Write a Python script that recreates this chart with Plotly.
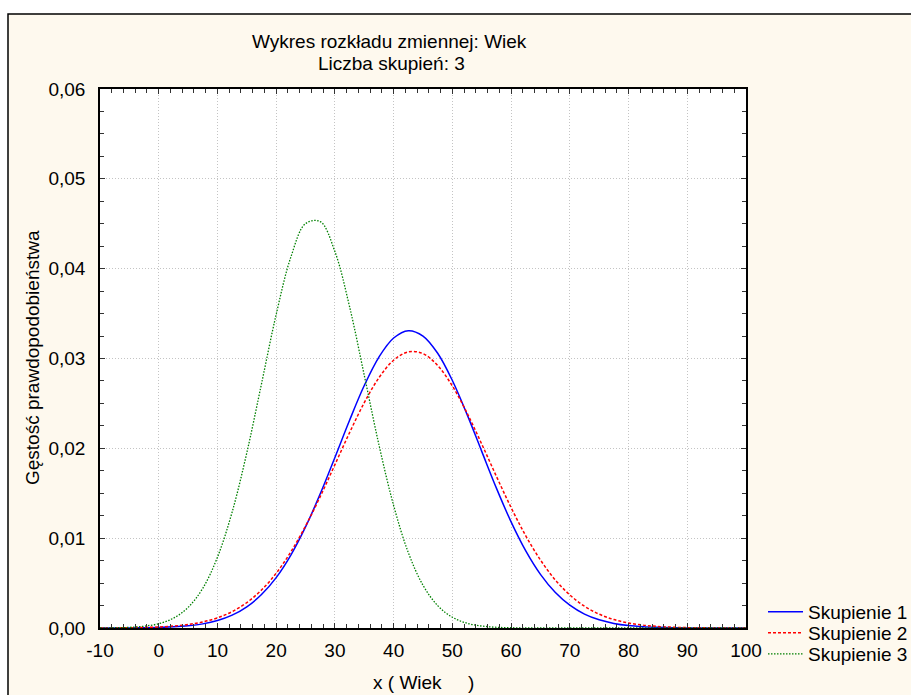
import plotly.graph_objects as go

# ---------------- data ----------------
x_vals = [-10, -7.5, -5, -2.5, 0, 2.5, 5, 7.5, 10, 12.5, 15, 17.5, 20, 22.5, 25, 27.5,
          30, 32.5, 35, 37.5, 40, 42.5, 45, 47.5, 50, 52.5, 55, 57.5, 60, 62.5, 65,
          67.5, 70, 72.5, 75, 77.5, 80, 82.5, 85, 87.5, 90, 92.5, 95, 97.5, 100]

skupienie_1 = [0.0, 0.0, 0.0, 0.00003, 0.00006, 0.00013, 0.00025, 0.00046, 0.00083,
               0.00143, 0.00236, 0.00372, 0.00561, 0.00812, 0.01125, 0.01494, 0.01899,
               0.02313, 0.02699, 0.03016, 0.03228, 0.03310, 0.03250, 0.03058, 0.02755,
               0.02378, 0.01966, 0.01557, 0.01181, 0.00858, 0.00597, 0.00398, 0.00254,
               0.00155, 0.00091, 0.00051, 0.00027, 0.00014, 0.00007, 0.00003, 0.00001,
               0.0, 0.0, 0.0, 0.0]

skupienie_2 = [0.00001, 0.00001, 0.00003, 0.00006, 0.00011, 0.00022, 0.00039, 0.00067,
               0.00113, 0.00182, 0.00283, 0.00423, 0.00610, 0.00848, 0.01135, 0.01463,
               0.01818, 0.02175, 0.02508, 0.02786, 0.02981, 0.03074, 0.03054, 0.02922,
               0.02694, 0.02393, 0.02048, 0.01688, 0.01341, 0.01026, 0.00757, 0.00537,
               0.00368, 0.00242, 0.00154, 0.00094, 0.00056, 0.00032, 0.00017, 0.00009,
               0.00004, 0.00002, 0.00001, 0.0, 0.0]

skupienie_3 = [0.00001, 0.00003, 0.00007, 0.00020, 0.00048, 0.00109, 0.00229, 0.00442,
               0.00788, 0.01291, 0.01951, 0.02718, 0.03490, 0.04129, 0.04502, 0.04524,
               0.04190, 0.03576, 0.02813, 0.02039, 0.01363, 0.00839, 0.00476, 0.00249,
               0.00120, 0.00053, 0.00022, 0.00008, 0.00003, 0.00001, 0.0, 0.0, 0.0, 0.0,
               0.0, 0.0, 0.0, 0.0, 0.0, 0.0, 0.0, 0.0, 0.0, 0.0, 0.0]

series_names = ["Skupienie 1", "Skupienie 2", "Skupienie 3"]

x_tick_vals = [-10, 0, 10, 20, 30, 40, 50, 60, 70, 80, 90, 100]
x_tick_text = ["-10", "0", "10", "20", "30", "40", "50", "60", "70", "80", "90", "100"]
y_tick_vals = [0.0, 0.01, 0.02, 0.03, 0.04, 0.05, 0.06]
y_tick_text = ["0,00", "0,01", "0,02", "0,03", "0,04", "0,05", "0,06"]

title_lines = ["Wykres rozkładu zmiennej: Wiek", "Liczba skupień: 3"]
x_title = "x ( Wiek\u00a0\u00a0\u00a0\u00a0\u00a0)"
y_title = "Gęstość prawdopodobieństwa"

# ---------------- figure ----------------
W, H = 911, 695
L, R, T, B = 100, 165, 89, 67
PW, PH = W - L - R, H - T - B
FONT = "Arial, Liberation Sans, sans-serif"
FS = 19
CREAM = "#fef9ee"


def px_x(p):
    return (p - L) / PW


def px_y(p):
    return (H - B - p) / PH


fig = go.Figure()
styles = [
    dict(color="#0000ff", width=1.5, dash="solid"),
    dict(color="#ff0000", width=1.5, dash="3px,2px"),
    dict(color="#008000", width=1.3, dash="1.5px,1.5px"),
]
legend_ids = ["legend", "legend2", "legend3"]
for name, ys, st, lg in zip(series_names, [skupienie_1, skupienie_2, skupienie_3], styles, legend_ids):
    fig.add_trace(go.Scatter(
        x=x_vals, y=ys, mode="lines", name=name, legend=lg, showlegend=True,
        line=dict(color=st["color"], width=st["width"], dash=st["dash"],
                  shape="spline", smoothing=1.0),
    ))

legend_common = dict(xanchor="left", yanchor="middle", bgcolor="rgba(0,0,0,0)",
                     borderwidth=0, font=dict(family=FONT, size=FS, color="black"),
                     itemwidth=35, tracegroupgap=0, visible=True)
leg_x = px_x(763)
fig.update_layout(
    showlegend=True,
    legend=dict(x=leg_x, y=px_y(612), **legend_common),
    legend2=dict(x=leg_x, y=px_y(633), **legend_common),
    legend3=dict(x=leg_x, y=px_y(654), **legend_common),
)

axis_common = dict(
    showline=True, linecolor="black", linewidth=1.5, mirror="allticks",
    ticks="inside", ticklen=5, tickwidth=1, tickcolor="#333333",
    showgrid=True, gridcolor="#c4c4c4", gridwidth=1, griddash="1px,2px",
    zeroline=False, tickfont=dict(family=FONT, size=FS, color="black"),
    tickmode="array",
)

fig.update_xaxes(
    range=[-10, 100], tickvals=x_tick_vals, ticktext=x_tick_text, ticklabelstandoff=4,
    minor=dict(tickmode="linear", tick0=0, dtick=2, ticks="inside", ticklen=4,
               tickcolor="#333333", showgrid=False),
    **axis_common,
)
fig.update_yaxes(
    range=[0, 0.06], tickvals=y_tick_vals, ticktext=y_tick_text, ticklabelstandoff=9,
    minor=dict(tickmode="linear", tick0=0, dtick=0.0025, ticks="inside", ticklen=4,
               tickcolor="#333333", showgrid=False),
    **axis_common,
)

fig.update_layout(
    width=W, height=H, autosize=False,
    margin=dict(l=L, r=R, t=T, b=B, pad=0, autoexpand=False),
    paper_bgcolor="white", plot_bgcolor="white",
    font=dict(family=FONT, size=FS, color="black"),
    shapes=[
        dict(type="rect", xref="paper", yref="paper",
             x0=px_x(8), x1=px_x(1200), y0=px_y(1000), y1=px_y(14),
             fillcolor=CREAM, line=dict(color="black", width=1.5), layer="below"),
        dict(type="rect", xref="x domain", yref="y domain", x0=0, x1=1, y0=0, y1=1,
             fillcolor="white", line=dict(width=0), layer="below"),
    ],
    annotations=[
        dict(text=title_lines[0], xref="paper", yref="paper", x=px_x(389), y=px_y(41),
             xanchor="center", yanchor="middle", showarrow=False,
             font=dict(family=FONT, size=FS, color="black")),
        dict(text=title_lines[1], xref="paper", yref="paper", x=px_x(391), y=px_y(64),
             xanchor="center", yanchor="middle", showarrow=False,
             font=dict(family=FONT, size=FS, color="black")),
        dict(text=x_title, xref="paper", yref="paper", x=px_x(423), y=px_y(683),
             xanchor="center", yanchor="middle", showarrow=False,
             font=dict(family=FONT, size=FS, color="black")),
        dict(text=y_title, xref="paper", yref="paper", x=px_x(32), y=px_y(358),
             xanchor="center", yanchor="middle", showarrow=False, textangle=-90,
             font=dict(family=FONT, size=FS, color="black")),
    ],
)

fig.write_html(
    "out.html",
    config={"displayModeBar": False},
    post_script="document.body.style.margin='0';document.body.style.overflow='hidden';",
)
